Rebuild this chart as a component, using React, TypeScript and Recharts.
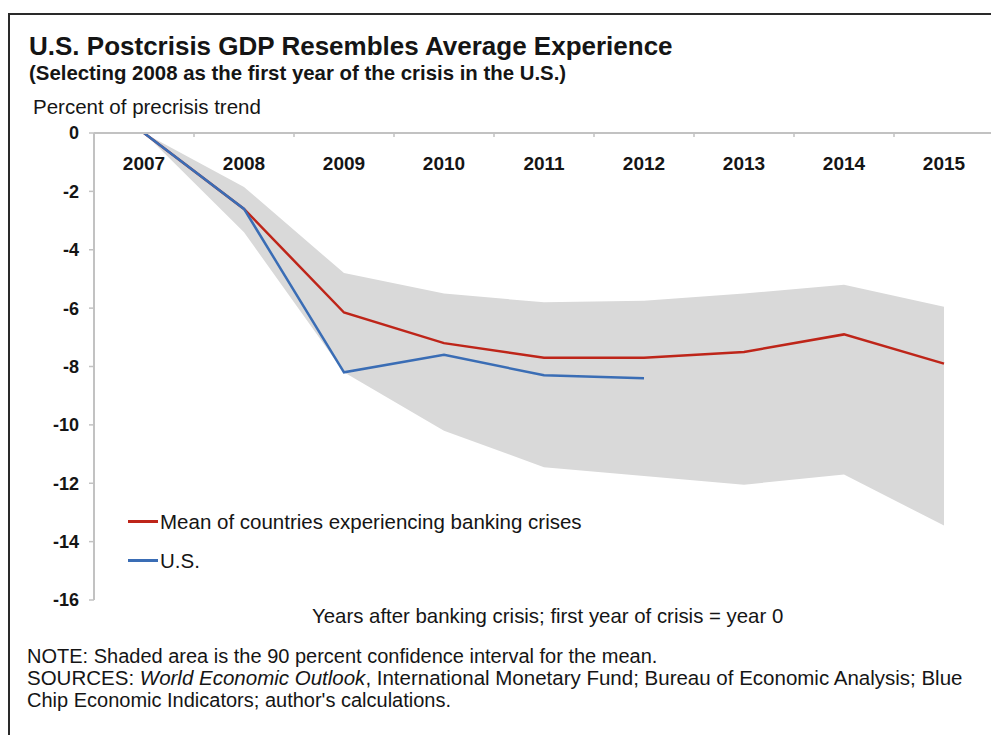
import { ComposedChart, Area, Line, XAxis, YAxis, Legend } from "recharts";

const years = ["2007", "2008", "2009", "2010", "2011", "2012", "2013", "2014", "2015"];
const meanValues = [0, -2.6, -6.15, -7.2, -7.7, -7.7, -7.5, -6.9, -7.9];
const usValues: (number | null)[] = [0, -2.6, -8.2, -7.6, -8.3, -8.4, null, null, null];
const bandUpper = [0, -1.85, -4.8, -5.5, -5.8, -5.75, -5.5, -5.2, -5.95];
const bandLower = [0, -3.4, -8.2, -10.2, -11.45, -11.75, -12.05, -11.7, -13.45];
const yTicks = [0, -2, -4, -6, -8, -10, -12, -14, -16];

const data = years.map((year, i) => ({
  year,
  mean: meanValues[i],
  us: usValues[i],
  band: [bandLower[i], bandUpper[i]],
}));

const FONT = "'Liberation Sans', Arial, sans-serif";
const TEXT = "#151515";
const AXIS = "#c2c2c2";
const PLOT_LEFT = 94;
const PLOT_WIDTH = 900;
const BAND = PLOT_WIDTH / years.length;

function TopTick(props: any) {
  const { x, y, payload } = props;
  return (
    <g>
      <line x1={x - BAND / 2} x2={x - BAND / 2} y1={y} y2={y + 4} stroke={AXIS} strokeWidth={1.5} />
      <text x={x} y={y + 37} textAnchor="middle" fill={TEXT} fontSize={19} fontWeight="bold" fontFamily={FONT}>
        {payload.value}
      </text>
    </g>
  );
}

function LegendBox(props: any) {
  const items = (props.payload ?? []).filter((p: any) => p.type !== "none");
  return (
    <div style={{ fontFamily: FONT, color: TEXT }}>
      {items.map((p: any) => (
        <div key={p.value} style={{ display: "flex", alignItems: "center", height: 39 }}>
          <span style={{ display: "inline-block", width: 30, height: 3, background: p.color }} />
          <span style={{ fontSize: 20.5, marginLeft: 2, whiteSpace: "nowrap" }}>{p.value}</span>
        </div>
      ))}
    </div>
  );
}

export default function App() {
  return (
    <div
      style={{
        position: "fixed",
        left: 0,
        top: 0,
        width: 991,
        height: 735,
        overflow: "hidden",
        background: "#fff",
        fontFamily: FONT,
      }}
    >
      {/* frame of the original image, cut off at right and bottom */}
      <div
        style={{
          position: "absolute",
          left: 8,
          top: 13,
          width: 983,
          height: 722,
          borderTop: "2px solid #2a2a2a",
          borderLeft: "2px solid #2a2a2a",
          boxSizing: "border-box",
        }}
      />

      <div style={{ position: "absolute", left: 0, top: 0 }}>
        <ComposedChart
          width={PLOT_LEFT + PLOT_WIDTH}
          height={640}
          data={data}
          margin={{ top: 0, right: 0, bottom: 40, left: 0 }}
        >
          <XAxis
            dataKey="year"
            orientation="top"
            height={133}
            interval={0}
            padding={{ left: BAND / 2, right: BAND / 2 }}
            tickSize={0}
            tickMargin={0}
            axisLine={{ stroke: AXIS, strokeWidth: 2 }}
            tickLine={false}
            tick={<TopTick />}
          />
          <YAxis
            width={PLOT_LEFT}
            domain={[-16, 0]}
            ticks={yTicks}
            interval={0}
            tickSize={5}
            tickMargin={10}
            axisLine={{ stroke: AXIS, strokeWidth: 2 }}
            tickLine={{ stroke: AXIS, strokeWidth: 1.5 }}
            tick={{ fill: TEXT, fontSize: 18, fontWeight: "bold", fontFamily: FONT }}
          />
          <Area
            dataKey="band"
            type="linear"
            fill="#d9d9d9"
            fillOpacity={1}
            stroke="none"
            legendType="none"
            activeDot={false}
            isAnimationActive={false}
          />
          <Line
            dataKey="mean"
            name="Mean of countries experiencing banking crises"
            type="linear"
            stroke="#be2519"
            strokeWidth={2.5}
            dot={false}
            activeDot={false}
            isAnimationActive={false}
          />
          <Line
            dataKey="us"
            name="U.S."
            type="linear"
            stroke="#3a6db5"
            strokeWidth={2.5}
            dot={false}
            activeDot={false}
            isAnimationActive={false}
          />
          <Legend
            layout="horizontal"
            align="center"
            verticalAlign="middle"
            content={<LegendBox />}
            wrapperStyle={{ left: 128, top: 502, width: "auto", height: "auto" }}
          />
        </ComposedChart>
      </div>

      <svg
        width={991}
        height={735}
        style={{ position: "absolute", left: 0, top: 0, pointerEvents: "none" }}
        fontFamily={FONT}
        fill={TEXT}
      >
        <text x={29} y={55} fontSize={26} fontWeight="bold">
          U.S. Postcrisis GDP Resembles Average Experience
        </text>
        <text x={29} y={80} fontSize={20.4} fontWeight="bold">
          (Selecting 2008 as the first year of the crisis in the U.S.)
        </text>
        <text x={33} y={114} fontSize={20.5}>
          Percent of precrisis trend
        </text>
        <text x={312} y={623} fontSize={20.4}>
          Years after banking crisis; first year of crisis = year 0
        </text>
        <text x={27} y={663} fontSize={20}>
          NOTE: Shaded area is the 90 percent confidence interval for the mean.
        </text>
        <text x={27} y={685} fontSize={20.5}>
          SOURCES: <tspan fontStyle="italic">World Economic Outlook</tspan>, International Monetary Fund; Bureau of
          Economic Analysis; Blue
        </text>
        <text x={27} y={707} fontSize={20}>
          Chip Economic Indicators; author's calculations.
        </text>
      </svg>
    </div>
  );
}
